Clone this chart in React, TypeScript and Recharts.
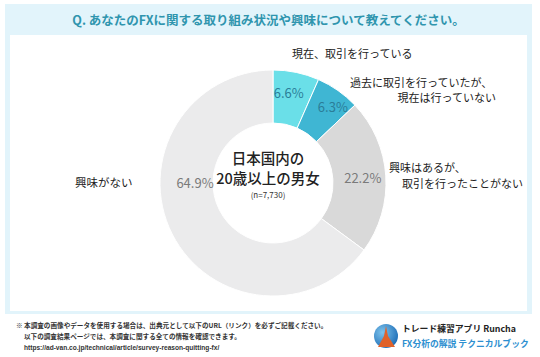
import React from 'react'
import { PieChart, Pie, Cell } from 'recharts'

// survey answers, clockwise from 12 o'clock
const categories = [
  '現在、取引を行っている',
  '過去に取引を行っていたが、現在は行っていない',
  '興味はあるが、取引を行ったことがない',
  '興味がない',
]
const shares = [6.6, 6.3, 22.2, 64.9]
const sliceColors = ['#6adfe8', '#3fb6d3', '#d9d9d9', '#ebebec']
const valueColors = ['#2b7d98', '#2b7d98', '#7a7a7a', '#7a7a7a']

// how each category name is broken onto lines next to the ring
const categoryLines = [
  ['現在、取引を行っている'],
  ['過去に取引を行っていたが、', '現在は行っていない'],
  ['興味はあるが、', '取引を行ったことがない'],
  ['興味がない'],
]

const titleText = 'Q. あなたのFXに関する取り組み状況や興味について教えてください。'
const centerLines = ['日本国内の', '20歳以上の男女']
const sampleText = '(n=7,730)'
const footerLines = [
  '※ 本調査の画像やデータを使用する場合は、出典元として以下のURL（リンク）を必ずご記載ください。',
  '以下の調査結果ページでは、本調査に関する全ての情報を確認できます。',
  'https://ad-van.co.jp/technical/article/survey-reason-quitting-fx/',
]

const chartData = categories.map((name, i) => ({ name, value: shares[i] }))

// hand-tuned spots for the % labels (the big slice's label sits at 9 o'clock)
const labelRadius = [92, 97, 90, 78]
const labelAngleShift = [2, -3, 0, -27]

const RADIAN = Math.PI / 180
const jp = '"Noto Sans CJK JP", "Noto Sans", sans-serif'

const renderValue = (props: any) => {
  const { cx, cy, midAngle, index } = props
  const a = (midAngle + labelAngleShift[index]) * RADIAN
  const x = cx + labelRadius[index] * Math.cos(a)
  const y = cy - labelRadius[index] * Math.sin(a)
  return (
    <text
      x={x}
      y={y}
      fill={valueColors[index]}
      fontSize={13}
      fontFamily={jp}
      textAnchor="middle"
      dominantBaseline="central"
    >
      {shares[index].toFixed(1)}%
    </text>
  )
}

const lineStyle: React.CSSProperties = {
  position: 'absolute',
  fontSize: 11,
  color: '#222',
  lineHeight: '16px',
  whiteSpace: 'nowrap',
}

export default function App() {
  return (
    <div style={{ position: 'relative', width: 540, height: 357, background: '#fff', fontFamily: jp, overflow: 'hidden' }}>
      <style>{'body{margin:0}'}</style>

      {/* panel */}
      <div style={{ position: 'absolute', left: 5, top: 4, width: 527, height: 310, background: '#e2f4fb' }} />
      <div style={{ position: 'absolute', left: 10, top: 35, width: 517, height: 276, background: '#fff' }} />
      <div
        style={{
          position: 'absolute', left: 5, top: 4, width: 527, height: 31,
          display: 'flex', alignItems: 'center', justifyContent: 'center',
          color: '#2f95ae', fontSize: 12.5, fontWeight: 600,
        }}
      >
        {titleText}
      </div>

      <div style={{ position: 'absolute', left: 0, top: 0 }}>
        <PieChart width={540} height={357}>
          <Pie
            data={chartData}
            dataKey="value"
            nameKey="name"
            cx={268}
            cy={178}
            innerRadius={60}
            outerRadius={113}
            startAngle={90}
            endAngle={-270}
            stroke="#fff"
            strokeWidth={1}
            label={renderValue}
            labelLine={false}
            isAnimationActive={false}
          >
            {chartData.map((d, i) => (
              <Cell key={d.name} fill={sliceColors[i]} />
            ))}
          </Pie>
        </PieChart>
      </div>

      {/* centre caption */}
      <div style={{ position: 'absolute', left: 208, top: 148, width: 120, textAlign: 'center', color: '#222' }}>
        <div style={{ fontSize: 14.5, fontWeight: 500, lineHeight: '20px' }}>{centerLines[0]}</div>
        <div style={{ fontSize: 14.5, fontWeight: 500, lineHeight: '20px' }}>{centerLines[1]}</div>
        <div style={{ fontSize: 8, lineHeight: '12px', color: '#333', marginTop: 1 }}>{sampleText}</div>
      </div>

      {/* category labels */}
      <div style={{ ...lineStyle, left: 292, top: 45 }}>{categoryLines[0][0]}</div>
      <div style={{ ...lineStyle, left: 350, top: 74 }}>{categoryLines[1][0]}</div>
      <div style={{ ...lineStyle, right: 540 - 496, top: 89 }}>{categoryLines[1][1]}</div>
      <div style={{ ...lineStyle, left: 389, top: 159 }}>{categoryLines[2][0]}</div>
      <div style={{ ...lineStyle, right: 540 - 523, top: 175 }}>{categoryLines[2][1]}</div>
      <div style={{ ...lineStyle, left: 75, top: 174, fontSize: 11.5 }}>{categoryLines[3][0]}</div>

      {/* footer */}
      <div style={{ position: 'absolute', left: 16, top: 320, fontSize: 6.6, fontWeight: 700, color: '#333', lineHeight: '11px', fontFamily: jp }}>
        <div>{footerLines[0]}</div>
        <div style={{ paddingLeft: 8 }}>{footerLines[1]}</div>
        <div style={{ paddingLeft: 8, fontFamily: '"Liberation Sans", Arial, sans-serif' }}>{footerLines[2]}</div>
      </div>

      {/* brand */}
      <svg style={{ position: 'absolute', left: 373, top: 323 }} width={26} height={26}>
        <defs>
          <radialGradient id="lg" cx="35%" cy="35%" r="70%">
            <stop offset="0%" stopColor="#7fc4ec" />
            <stop offset="100%" stopColor="#1f6fb8" />
          </radialGradient>
        </defs>
        <circle cx={13} cy={13} r={12} fill="url(#lg)" />
        <path d="M13 3 L15 13 L22 24 L5 24 L11 13 Z" fill="#e0622a" />
      </svg>
      <div style={{ position: 'absolute', left: 402, top: 322, fontSize: 8.8, fontWeight: 700, color: '#222', whiteSpace: 'nowrap' }}>
        トレード練習アプリ Runcha
      </div>
      <div style={{ position: 'absolute', left: 402, top: 337, fontSize: 8.8, fontWeight: 700, color: '#2d8fd0', whiteSpace: 'nowrap' }}>
        FX分析の解説 テクニカルブック
      </div>
    </div>
  )
}
